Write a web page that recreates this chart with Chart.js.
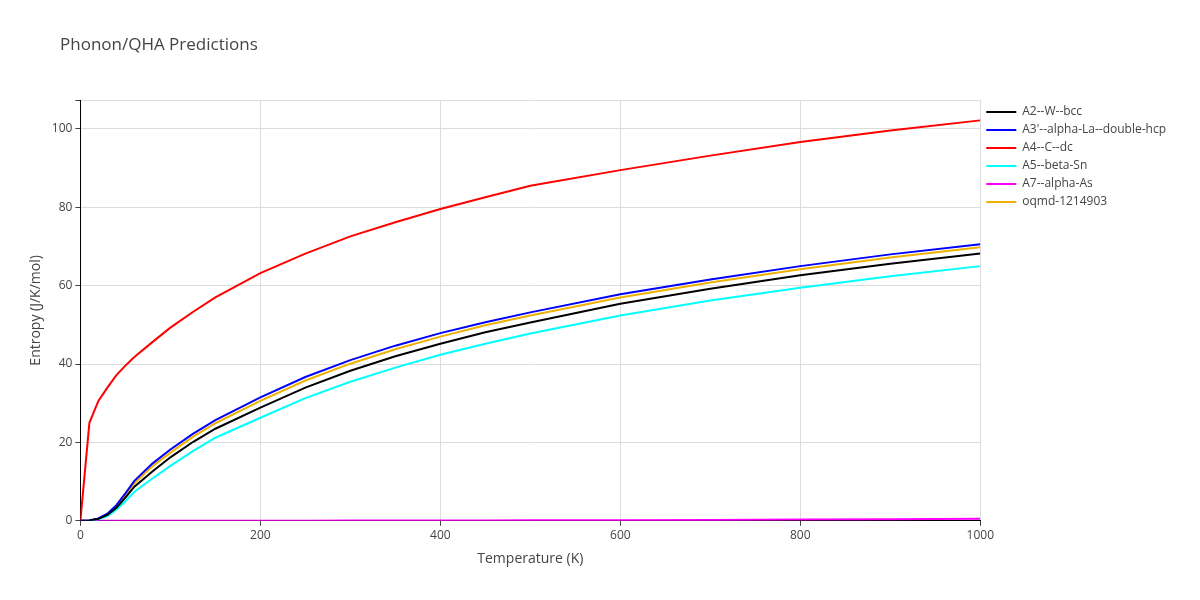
<!DOCTYPE html>
<html><head><meta charset="utf-8">
<script src="https://cdn.jsdelivr.net/npm/chart.js@4/dist/chart.umd.min.js"></script>
<style>html,body{margin:0;padding:0;background:#fff}#w{width:1200px;height:600px}</style>
</head><body><div id="w"><canvas id="c" width="1200" height="600"></canvas></div>
<script>
const temps = [0,10,20,30,40,50,60,80,100,125,150,200,250,300,350,400,450,500,600,700,800,900,1000];
const sW   = [0,0.1,0.5,1.5,3.3,5.9,8.7,12.6,16.2,20.1,23.5,28.9,34,38.3,42,45.2,48.1,50.6,55.4,59.2,62.7,65.6,68.2];
const sLa  = [0,0.1,0.6,1.8,4.0,7.0,10.2,14.6,18.2,22.2,25.7,31.5,36.7,41,44.7,47.9,50.7,53.2,57.8,61.6,65,68,70.6];
const sC   = [0,25,30.6,34,37.2,39.6,41.8,45.6,49.3,53.3,57,63.2,68.2,72.6,76.2,79.6,82.6,85.5,89.5,93.2,96.7,99.6,102.2];
const sSn  = [0,0.05,0.4,1.2,2.8,5.0,7.4,10.8,14.0,17.8,21.2,26.3,31.3,35.5,39.1,42.4,45.2,47.8,52.4,56.2,59.5,62.4,65];
const sAs  = [0,0,0,0,0,0,0,0,0,0,0,0.02,0.03,0.05,0.06,0.08,0.1,0.12,0.17,0.23,0.3,0.38,0.5];
const sOq  = [0,0.1,0.5,1.7,3.7,6.5,9.6,13.9,17.4,21.4,24.9,30.6,35.8,40.1,43.8,47,49.9,52.4,57,60.8,64.2,67.2,69.8];
const names = ["A2--W--bcc","A3'--alpha-La--double-hcp","A4--C--dc","A5--beta-Sn","A7--alpha-As","oqmd-1214903"];
const colors = ["#000000","#0000ff","#ff0000","#00ffff","#ff00ff","#f0b000"];
const series = [sW,sLa,sC,sSn,sAs,sOq];
const pts = s => temps.map((t,i)=>({x:t,y:s[i]}));
const titlePlugin = {id:'t',afterDraw(ch){const c=ch.ctx;c.save();c.font='17px "Open Sans"';c.fillStyle='#444';c.fillText('Phonon/QHA Predictions',60,50);c.restore();}};
new Chart(document.getElementById('c'),{
  type:'line',
  data:{datasets:series.map((s,i)=>({label:names[i],data:pts(s),borderColor:colors[i],backgroundColor:colors[i],borderWidth:2,pointRadius:0,tension:0,fill:false}))},
  options:{responsive:false,animation:false,
    layout:{padding:{left:24,top:100,right:24,bottom:29}},
    plugins:{legend:{position:'right',align:'start',labels:{usePointStyle:true,pointStyle:'line',pointStyleWidth:30,boxHeight:2,color:'#444',font:{family:'Open Sans',size:12},padding:6}},tooltip:{enabled:false}},
    scales:{
      x:{type:'linear',min:0,max:1000,ticks:{stepSize:200,color:'#444',font:{family:'Open Sans',size:12},callback:v=>String(v)},
         grid:{color:'#dcdcdc',tickColor:'#444',tickLength:5},border:{color:'#000'},
         title:{display:true,text:'Temperature (K)',color:'#444',font:{family:'Open Sans',size:14}}},
      y:{min:0,max:107.4,ticks:{stepSize:20,color:'#444',font:{family:'Open Sans',size:12},callback:v=>v%20===0?String(v):''},
         grid:{color:'#dcdcdc',tickColor:'#444',tickLength:5},border:{color:'#000'},
         title:{display:true,text:'Entropy (J/K/mol)',color:'#444',font:{family:'Open Sans',size:14}}}
    }},
  plugins:[titlePlugin]
});
</script></body></html>
